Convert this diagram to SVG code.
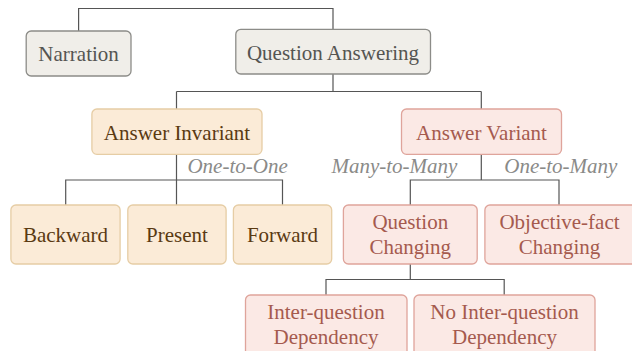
<svg xmlns="http://www.w3.org/2000/svg" width="632" height="351" viewBox="0 0 632 351" font-family="'Liberation Serif', 'DejaVu Serif', serif">
<style>
text{font-family:'Liberation Serif','DejaVu Serif',serif;font-size:21px;text-anchor:middle}
.g rect{fill:#f0eee9;stroke:#8c8c88;stroke-width:1.3}
.g text{fill:#555552}
.y rect{fill:#fbebd7;stroke:#e6cda5;stroke-width:1.3}
.y text{fill:#5a3a12}
.r rect{fill:#fbe9e5;stroke:#dfa49b;stroke-width:1.3}
.r text{fill:#a55a4e}
.lbl{font-style:italic;fill:#8a8a88}
#connectors path{fill:none;stroke:#555;stroke-width:1.2}
</style>
<g id="connectors">
<path d="M78.6 37V8.5H333V29.5"/>
<path d="M333 74V91.5M176.5 91.5H481.3M176.5 91.5V109M481.3 91.5V109"/>
<path d="M176.5 154.5V205M65.7 205V180H282.5V205"/>
<path d="M481.3 154.5V180M410.3 205V180H559V205"/>
<path d="M410.3 264V279.5M326 295V279.5H504.2V295"/>
<text class="lbl" x="237.6" y="173">One-to-One</text>
<text class="lbl" x="394.4" y="173">Many-to-Many</text>
<text class="lbl" x="560.8" y="173">One-to-Many</text>
</g>
<g id="narration" class="g"><rect x="26.2" y="31" width="104.8" height="45" rx="5"/><text x="78.6" y="61">Narration</text></g>
<g id="qa" class="g"><rect x="235.8" y="29.3" width="194.7" height="44.7" rx="5"/><text x="333" y="59.5">Question Answering</text></g>
<g id="ai" class="y"><rect x="91.9" y="109" width="170.1" height="45.3" rx="5"/><text x="177" y="139.5">Answer Invariant</text></g>
<g id="av" class="r"><rect x="401.5" y="109" width="160" height="45.3" rx="5"/><text x="481.5" y="139.5">Answer Variant</text></g>
<g id="backward" class="y"><rect x="10.9" y="205" width="109.2" height="59" rx="5"/><text x="65.5" y="241.5">Backward</text></g>
<g id="present" class="y"><rect x="127.8" y="205" width="98.3" height="59" rx="5"/><text x="177" y="241.5">Present</text></g>
<g id="forward" class="y"><rect x="233.4" y="205" width="98.3" height="59" rx="5"/><text x="282.5" y="241.5">Forward</text></g>
<g id="qchange" class="r"><rect x="343.4" y="205" width="133.8" height="59" rx="5"/><text x="410.3" y="229">Question</text><text x="410.3" y="254">Changing</text></g>
<g id="ofchange" class="r"><rect x="484.9" y="205" width="155" height="59" rx="5"/><text x="559.5" y="229">Objective-fact</text><text x="559.5" y="254">Changing</text></g>
<g id="interq" class="r"><rect x="245.5" y="295" width="161.5" height="70" rx="5"/><text x="326" y="318.5">Inter-question</text><text x="326" y="343.5">Dependency</text></g>
<g id="nointerq" class="r"><rect x="414" y="295" width="181" height="70" rx="5"/><text x="504.5" y="318.5">No Inter-question</text><text x="504.5" y="343.5">Dependency</text></g>
</svg>
